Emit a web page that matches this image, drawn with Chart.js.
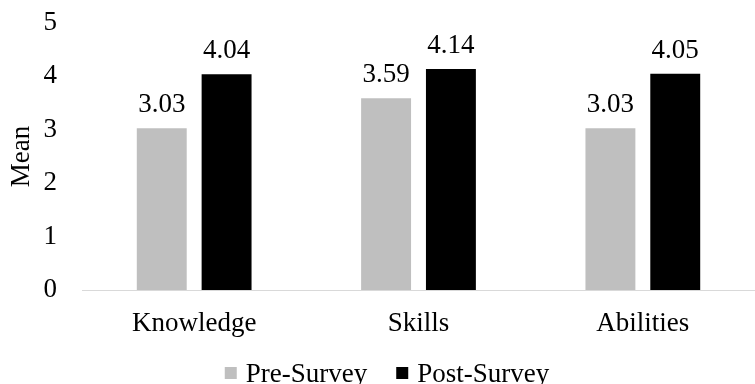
<!DOCTYPE html>
<html>
<head>
<meta charset="utf-8">
<script src="https://cdn.jsdelivr.net/npm/chart.js@4/dist/chart.umd.min.js"></script>
<style>
html,body{margin:0;padding:0;background:#fff;}
#wrap{width:755px;height:384px;}
</style>
</head>
<body>
<div id="wrap"><canvas id="c" width="755" height="384"></canvas></div>
<script>
const categories = ["Knowledge", "Skills", "Abilities"];
const preSurvey = [3.03, 3.59, 3.03];
const postSurvey = [4.04, 4.14, 4.05];
const seriesNames = ["Pre-Survey", "Post-Survey"];
const yTicks = [0, 1, 2, 3, 4, 5];

const FONT = "'Liberation Serif', 'Times New Roman', serif";
const FS = 27;

const valueLabels = {
  id: 'valueLabels',
  afterDatasetsDraw(chart) {
    const ctx = chart.ctx;
    ctx.save();
    ctx.font = FS + "px " + FONT;
    ctx.fillStyle = "#000";
    ctx.textAlign = "center";
    ctx.textBaseline = "alphabetic";
    chart.data.datasets.forEach((ds, i) => {
      const meta = chart.getDatasetMeta(i);
      meta.data.forEach((el, j) => {
        ctx.fillText(ds.data[j].toFixed(2), el.x, el.y - 16);
      });
    });
    ctx.restore();
  }
};

// Legend drawn from the datasets (labels + colours) under the chart
const bottomLegend = {
  id: 'bottomLegend',
  afterDraw(chart) {
    const ctx = chart.ctx;
    ctx.save();
    ctx.font = FS + "px " + FONT;
    ctx.textBaseline = "alphabetic";
    ctx.textAlign = "left";
    const box = 12, gapText = 9, gapItem = 29, baseline = 382, boxTop = 367, centerX = 387;
    const items = chart.data.datasets.map(ds => ({
      text: ds.label, color: ds.backgroundColor,
      w: ctx.measureText(ds.label).width
    }));
    let total = 0;
    items.forEach((it, i) => { total += box + gapText + it.w + (i ? gapItem : 0); });
    let x = centerX - total / 2;
    items.forEach((it) => {
      ctx.fillStyle = it.color;
      ctx.fillRect(x, boxTop, box, box);
      ctx.fillStyle = "#000";
      ctx.fillText(it.text, x + box + gapText, baseline);
      x += box + gapText + it.w + gapItem;
    });
    ctx.restore();
  }
};

new Chart(document.getElementById('c'), {
  type: 'bar',
  data: {
    labels: categories,
    datasets: [
      { label: seriesNames[0], data: preSurvey, backgroundColor: '#bfbfbf',
        categoryPercentage: 0.578, barPercentage: 0.77 },
      { label: seriesNames[1], data: postSurvey, backgroundColor: '#000000',
        categoryPercentage: 0.578, barPercentage: 0.77 }
    ]
  },
  options: {
    responsive: false,
    animation: false,
    devicePixelRatio: 1,
    layout: { padding: { top: 23, right: 0, left: 0, bottom: 27 } },
    plugins: {
      legend: { display: false },
      tooltip: { enabled: false },
      title: { display: false }
    },
    scales: {
      x: {
        grid: { display: false },
        border: { display: true, color: '#d9d9d9', width: 1 },
        ticks: { font: { family: FONT, size: FS }, color: '#000', padding: 10 },
        afterFit: (s) => { s.height = 67; s.paddingLeft = 0; s.paddingRight = 0; }
      },
      y: {
        min: 0, max: 5,
        afterBuildTicks: (s) => { s.ticks = yTicks.map(v => ({ value: v })); },
        grid: { display: false },
        border: { display: false },
        ticks: { font: { family: FONT, size: FS }, color: '#000', padding: 17 },
        title: { display: true, text: 'Mean', font: { family: FONT, size: FS }, color: '#000', padding: { top: 6, bottom: 0 } },
        afterFit: (s) => { s.width = 82; s.paddingTop = 0; s.paddingBottom = 0; }
      }
    }
  },
  plugins: [valueLabels, bottomLegend]
});
</script>
</body>
</html>
